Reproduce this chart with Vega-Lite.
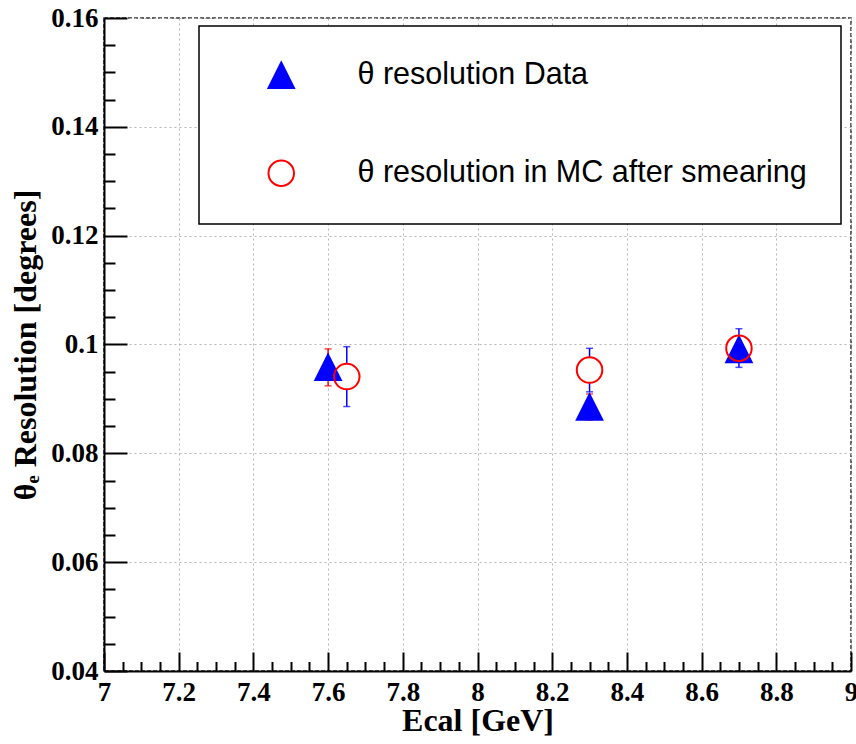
{
  "$schema": "https://vega.github.io/schema/vega-lite/v6.json",
  "width": 747,
  "height": 653,
  "autosize": {"type": "none"},
  "padding": {"left": 104, "top": 18, "right": 5, "bottom": 73},
  "background": "white",
  "config": {
    "view": {"stroke": "#333333", "strokeDash": [4, 2], "strokeWidth": 1.5},
    "legend": {
      "orient": "none",
      "legendX": 95,
      "legendY": 8,
      "strokeColor": "black",
      "strokeWidth": 1.5,
      "fillColor": "white",
      "padding": 34,
      "symbolOffset": 33,
      "labelOffset": 61,
      "rowPadding": 64,
      "symbolSize": 650,
      "symbolStrokeWidth": 2,
      "labelFont": "Liberation Sans",
      "labelFontSize": 30.5,
      "labelColor": "black",
      "labelLimit": 1000
    }
  },
  "data": {
    "values": [
      {"series": "θ resolution Data", "E": 7.6, "res": 0.0958, "lo": 0.0924, "hi": 0.0992},
      {"series": "θ resolution Data", "E": 8.3, "res": 0.0885, "lo": 0.0861, "hi": 0.0909},
      {"series": "θ resolution Data", "E": 8.7, "res": 0.0991, "lo": 0.0980, "hi": 0.1002},
      {"series": "θ resolution in MC after smearing", "E": 7.65, "res": 0.0941, "lo": 0.0886, "hi": 0.0996},
      {"series": "θ resolution in MC after smearing", "E": 8.3, "res": 0.0953, "lo": 0.0913, "hi": 0.0993},
      {"series": "θ resolution in MC after smearing", "E": 8.7, "res": 0.0993, "lo": 0.0958, "hi": 0.1029}
    ]
  },
  "layer": [
    {
      "transform": [{"filter": "datum.series === 'θ resolution in MC after smearing'"}],
      "mark": {"type": "rule", "color": "#0000ff", "strokeWidth": 1.5},
      "encoding": {
        "x": {
          "field": "E", "type": "quantitative",
          "scale": {"domain": [7, 9], "nice": false, "zero": false},
          "axis": {
            "orient": "bottom",
            "values": [7.05, 7.1, 7.15, 7.25, 7.3, 7.35, 7.45, 7.5, 7.55, 7.65, 7.7, 7.75, 7.85, 7.9, 7.95, 8.05, 8.1, 8.15, 8.25, 8.3, 8.35, 8.45, 8.5, 8.55, 8.65, 8.7, 8.75, 8.85, 8.9, 8.95],
            "labels": false, "domain": false, "grid": false,
            "tickSize": -9.5, "tickWidth": 2, "tickColor": "black", "title": null
          }
        },
        "y": {
          "field": "lo", "type": "quantitative",
          "scale": {"domain": [0.04, 0.16], "nice": false, "zero": false},
          "axis": {
            "orient": "left",
            "values": [0.045, 0.05, 0.055, 0.065, 0.07, 0.075, 0.085, 0.09, 0.095, 0.105, 0.11, 0.115, 0.125, 0.13, 0.135, 0.145, 0.15, 0.155],
            "labels": false, "domain": false, "grid": false,
            "tickSize": -11, "tickWidth": 2, "tickColor": "black", "title": null
          }
        },
        "y2": {"field": "hi"}
      }
    },
    {
      "transform": [
        {"filter": "datum.series === 'θ resolution in MC after smearing'"},
        {"fold": ["lo", "hi"], "as": ["end", "yv"]}
      ],
      "mark": {"type": "tick", "orient": "horizontal", "color": "#0000ff", "size": 7, "thickness": 1.5},
      "encoding": {
        "x": {"field": "E", "type": "quantitative", "axis": null},
        "y": {"field": "yv", "type": "quantitative", "axis": null}
      }
    },
    {
      "transform": [{"filter": "datum.series === 'θ resolution Data'"}],
      "mark": {"type": "rule", "color": "#ff0000", "strokeWidth": 1.5},
      "encoding": {
        "x": {
          "field": "E", "type": "quantitative",
          "scale": {"domain": [7, 9], "nice": false, "zero": false},
          "axis": {
            "orient": "bottom",
            "values": [7, 7.2, 7.4, 7.6, 7.8, 8, 8.2, 8.4, 8.6, 8.8, 9],
            "format": "~g",
            "tickSize": -19, "tickWidth": 2, "tickColor": "black",
            "domainColor": "black", "domainWidth": 2,
            "grid": true, "gridColor": "#b4b4b4", "gridDash": [2, 3], "gridWidth": 1,
            "labelFont": "Liberation Serif", "labelFontWeight": "bold", "labelFontSize": 27,
            "labelColor": "black", "labelPadding": 27, "labelFlush": false, "labelOverlap": false,
            "title": "Ecal [GeV]",
            "titleFont": "Liberation Serif", "titleFontWeight": "bold", "titleFontSize": 32,
            "titleColor": "black", "titlePadding": 0
          }
        },
        "y": {
          "field": "lo", "type": "quantitative",
          "scale": {"domain": [0.04, 0.16], "nice": false, "zero": false},
          "axis": {
            "orient": "left",
            "values": [0.04, 0.06, 0.08, 0.1, 0.12, 0.14, 0.16],
            "format": "~g",
            "tickSize": -23, "tickWidth": 2, "tickColor": "black",
            "domainColor": "black", "domainWidth": 2,
            "grid": true, "gridColor": "#b4b4b4", "gridDash": [2, 3], "gridWidth": 1,
            "labelFont": "Liberation Serif", "labelFontWeight": "bold", "labelFontSize": 27,
            "labelColor": "black", "labelPadding": 29, "labelFlush": false, "labelOverlap": false,
            "title": "θₑ Resolution [degrees]",
            "titleFont": "Liberation Serif", "titleFontWeight": "bold", "titleFontSize": 32,
            "titleColor": "black", "titlePadding": 8
          }
        },
        "y2": {"field": "hi"}
      }
    },
    {
      "transform": [
        {"filter": "datum.series === 'θ resolution Data'"},
        {"fold": ["lo", "hi"], "as": ["end", "yv"]}
      ],
      "mark": {"type": "tick", "orient": "horizontal", "color": "#ff0000", "size": 7, "thickness": 1.5},
      "encoding": {
        "x": {"field": "E", "type": "quantitative", "axis": null},
        "y": {"field": "yv", "type": "quantitative", "axis": null}
      }
    },
    {
      "transform": [{"filter": "datum.series === 'θ resolution in MC after smearing'"}],
      "mark": {"type": "point", "shape": "circle", "filled": true, "fill": "white", "strokeWidth": 0, "size": 650, "opacity": 1},
      "encoding": {
        "x": {"field": "E", "type": "quantitative", "axis": null},
        "y": {"field": "res", "type": "quantitative", "axis": null}
      }
    },
    {
      "mark": {"type": "point", "filled": true, "strokeWidth": 2, "size": 650, "opacity": 1},
      "encoding": {
        "x": {"field": "E", "type": "quantitative", "axis": null},
        "y": {"field": "res", "type": "quantitative", "axis": null},
        "shape": {
          "field": "series", "type": "nominal",
          "scale": {"domain": ["θ resolution Data", "θ resolution in MC after smearing"], "range": ["M0,-1L1,1L-1,1Z", "circle"]},
          "legend": {"title": null}
        },
        "fill": {
          "field": "series", "type": "nominal",
          "scale": {"domain": ["θ resolution Data", "θ resolution in MC after smearing"], "range": ["#0000ff", "transparent"]},
          "legend": {"title": null}
        },
        "stroke": {
          "field": "series", "type": "nominal",
          "scale": {"domain": ["θ resolution Data", "θ resolution in MC after smearing"], "range": ["#0000ff", "#ff0000"]},
          "legend": {"title": null}
        }
      }
    }
  ],
  "resolve": {"axis": {"x": "independent", "y": "independent"}}
}
